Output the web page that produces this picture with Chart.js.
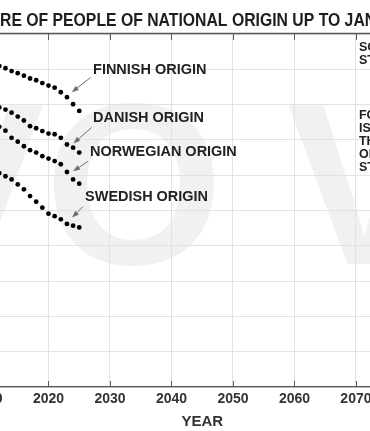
<!DOCTYPE html>
<html>
<head>
<meta charset="utf-8">
<script src="https://cdn.jsdelivr.net/npm/chart.js@4.4.0/dist/chart.umd.min.js"></script>
<style>
    html, body { margin: 0; padding: 0; background: #fff; overflow: hidden; }
    body { width: 370px; height: 431px; position: relative; }
    /* the chart is wider than the window: left axis and right notes are cut off like in the source */
    #wrap { position: absolute; left: -63px; top: 0; width: 500px; height: 431px; }
</style>
</head>
<body>
<div id="wrap"><canvas id="chart"></canvas></div>
<script>
// data (share in %)
const years = [2010, 2011, 2012, 2013, 2014, 2015, 2016, 2017, 2018, 2019, 2020, 2021, 2022, 2023, 2024, 2025];
const finnish = [92.0, 91.5, 90.9, 90.3, 89.5, 88.9, 88.2, 87.4, 86.9, 86.1, 85.4, 84.8, 83.5, 82.1, 80.1, 78.2];
const danish = [80.5, 79.9, 79.2, 78.6, 77.7, 76.6, 75.5, 73.9, 73.3, 72.5, 71.8, 71.6, 70.6, 68.7, 67.8, 66.4];
const norwegian = [75.5, 74.6, 73.7, 72.6, 70.6, 69.5, 68.2, 67.1, 66.4, 65.4, 64.7, 64.0, 63.1, 60.9, 58.8, 57.6];
const swedish = [62.5, 61.5, 60.6, 59.7, 58.8, 57.4, 56.0, 54.1, 52.5, 50.8, 49.1, 48.4, 47.5, 46.2, 45.7, 45.2];

const yearMin = 2010, yearMax = 2080;
const shareMin = 0, shareMax = 100;

const chartTitle = 'SHARE OF PEOPLE OF NATIONAL ORIGIN UP TO JANUARY 1, 2025';

// text labels with arrows, in data units (year, share)
const notes = [
    { text: 'FINNISH ORIGIN', at: [2027.25, 89.85], from: [2026.85, 87.7], to: [2023.8, 83.5] },
    { text: 'DANISH ORIGIN', at: [2027.25, 76.2], from: [2027.0, 73.5], to: [2024.05, 69.0] },
    { text: 'NORWEGIAN ORIGIN', at: [2026.75, 66.7], from: [2026.4, 63.9], to: [2024.0, 61.1] },
    { text: 'SWEDISH ORIGIN', at: [2025.95, 54.0], from: [2025.6, 51.1], to: [2023.85, 48.0] }
];

// side notes next to the 2070 line
const sideNotes = [
    { year: 2070, share: 96.2, lines: ['SOURCE:', 'STATISTICS NORWAY'] },
    { year: 2070, share: 76.9, lines: ['FOR 2025, DATA', 'IS AS OF', 'THE START', 'OF THE', 'STATED YEAR'] }
];

const toPoints = (vals) => vals.map((v, i) => ({ x: years[i], y: v }));

// text drawn a bit narrow, like in the source picture
function narrowText(ctx, text, x, y, squeeze) {
    ctx.save();
    ctx.translate(x, y);
    ctx.scale(squeeze, 1);
    ctx.fillText(text, 0, 0);
    ctx.restore();
}

const watermark = {
    id: 'watermark',
    beforeDraw(chart) {
        const ctx = chart.ctx;
        ctx.save();
        ctx.fillStyle = '#f1f1f1';
        ctx.font = 'bold 230px "Liberation Sans", Arial, sans-serif';
        ctx.textBaseline = 'alphabetic';
        ctx.textAlign = 'left';
        ctx.fillText('VO V', -46, 264);
        ctx.restore();
    }
};

const frame = {
    id: 'frame',
    beforeDatasetsDraw(chart) {
        const { ctx, chartArea: a, scales: { x } } = chart;
        ctx.save();
        ctx.strokeStyle = '#5a5a5a';
        ctx.lineWidth = 1.3;
        ctx.beginPath();
        ctx.moveTo(a.left, a.top - 0.5);
        ctx.lineTo(a.right, a.top - 0.5);
        ctx.stroke();
        ctx.lineWidth = 1;
        x.ticks.forEach(t => {
            const px = Math.round(x.getPixelForValue(t.value)) + 0.5;
            ctx.beginPath();
            ctx.moveTo(px, a.bottom);
            ctx.lineTo(px, a.bottom - 6);
            ctx.moveTo(px, a.top);
            ctx.lineTo(px, a.top + 6);
            ctx.stroke();
        });
        ctx.restore();
    }
};

const annotate = {
    id: 'annotate',
    afterDatasetsDraw(chart) {
        const { ctx, chartArea: a, scales: { x, y } } = chart;
        ctx.save();
        ctx.strokeStyle = '#6e6e6e';
        ctx.fillStyle = '#6e6e6e';
        ctx.lineWidth = 1;
        notes.forEach(n => {
            const x1 = x.getPixelForValue(n.from[0]), y1 = y.getPixelForValue(n.from[1]);
            const x2 = x.getPixelForValue(n.to[0]), y2 = y.getPixelForValue(n.to[1]);
            const ang = Math.atan2(y2 - y1, x2 - x1);
            const c = Math.cos(ang), s = Math.sin(ang);
            ctx.beginPath();
            ctx.moveTo(x1, y1);
            ctx.lineTo(x2 - 5 * c, y2 - 5 * s);
            ctx.stroke();
            ctx.beginPath();
            ctx.moveTo(x2, y2);
            ctx.lineTo(x2 - 7 * c + 2.6 * s, y2 - 7 * s - 2.6 * c);
            ctx.lineTo(x2 - 7 * c - 2.6 * s, y2 - 7 * s + 2.6 * c);
            ctx.closePath();
            ctx.fill();
        });

        ctx.fillStyle = '#222';
        ctx.textAlign = 'left';
        ctx.textBaseline = 'middle';
        ctx.font = 'bold 15.4px "Liberation Sans", Arial, sans-serif';
        notes.forEach(n => {
            narrowText(ctx, n.text, x.getPixelForValue(n.at[0]), y.getPixelForValue(n.at[1]), 0.94);
        });

        ctx.font = 'bold 12.5px "Liberation Sans", Arial, sans-serif';
        sideNotes.forEach(b => {
            const px = x.getPixelForValue(b.year) + 3;
            const py = y.getPixelForValue(b.share);
            b.lines.forEach((line, i) => ctx.fillText(line, px, py + i * 13));
        });

        // title, placed so that only its middle part shows in the window
        ctx.fillStyle = '#1e1e1e';
        ctx.font = 'bold 19px "Liberation Sans", Arial, sans-serif';
        const squeeze = 0.83;
        const titleX = a.left + 13 - ctx.measureText('SHA').width * squeeze;
        narrowText(ctx, chartTitle, titleX, 20.5, squeeze);
        ctx.restore();
    }
};

new Chart(document.getElementById('chart'), {
    type: 'scatter',
    data: {
        datasets: [
            { label: 'Finnish origin', data: toPoints(finnish) },
            { label: 'Danish origin', data: toPoints(danish) },
            { label: 'Norwegian origin', data: toPoints(norwegian) },
            { label: 'Swedish origin', data: toPoints(swedish) }
        ].map(ds => Object.assign(ds, {
            showLine: false,
            pointRadius: 2.4,
            pointBackgroundColor: '#000',
            pointBorderWidth: 0,
            clip: false
        }))
    },
    options: {
        responsive: true,
        maintainAspectRatio: false,
        animation: false,
        events: [],
        layout: { padding: { left: 23, right: 18, top: 34, bottom: 0 } },
        plugins: {
            legend: { display: false },
            tooltip: { enabled: false },
            title: { display: false }
        },
        scales: {
            x: {
                type: 'linear',
                min: yearMin,
                max: yearMax,
                afterFit: (s) => { s.height = 44; },
                ticks: {
                    stepSize: 10,
                    padding: 4,
                    color: '#333',
                    font: { family: '"Liberation Sans", Arial, sans-serif', size: 14, weight: 'bold' },
                    callback: (v) => String(v)
                },
                grid: { color: '#e2e2e2', drawTicks: false },
                border: { display: true, color: '#555', width: 1.3 },
                title: {
                    display: true,
                    text: 'YEAR',
                    color: '#333',
                    font: { family: '"Liberation Sans", Arial, sans-serif', size: 15, weight: 'bold' },
                    padding: { top: 0, bottom: 0 }
                }
            },
            y: {
                min: shareMin,
                max: shareMax,
                afterFit: (s) => { s.width = 27; },
                ticks: { stepSize: 10, display: false },
                grid: { color: '#e2e2e2', drawTicks: false },
                border: { display: true, color: '#555' }
            }
        }
    },
    plugins: [watermark, frame, annotate]
});
</script>
</body>
</html>
